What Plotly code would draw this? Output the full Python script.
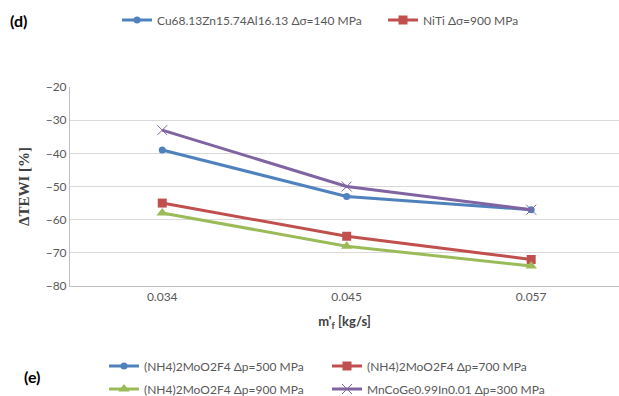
import plotly.graph_objects as go

categories = ["0.034", "0.045", "0.057"]
y_ticks = [-80, -70, -60, -50, -40, -30, -20]

series_names = [
    "(NH4)2MoO2F4 Δp=500 MPa",
    "(NH4)2MoO2F4 Δp=700 MPa",
    "(NH4)2MoO2F4 Δp=900 MPa",
    "MnCoGe0.99In0.01 Δp=300 MPa",
]
blue_vals = [-39, -53, -57]
red_vals = [-55, -65, -72]
green_vals = [-58, -68, -74]
purple_vals = [-33, -50, -57]

top_legend_names = ["Cu68.13Zn15.74Al16.13 Δσ=140 MPa", "NiTi Δσ=900 MPa"]

BLUE, RED, GREEN, PURPLE = "#4f81bd", "#c0504d", "#9bbb59", "#8064a2"
FONT = "Lato, Open Sans, sans-serif"
W, H = 619, 396
ML, MR, MT, MB = 70, 0, 87, 110

fig = go.Figure()
x_idx = list(range(len(categories)))

# top (d) legend entries
fig.add_trace(go.Scatter(x=[None], y=[None], name=top_legend_names[0], mode="lines+markers",
                         line=dict(color=BLUE, width=3), marker=dict(symbol="circle", size=7, color=BLUE),
                         legend="legend"))
fig.add_trace(go.Scatter(x=[None], y=[None], name=top_legend_names[1], mode="lines+markers",
                         line=dict(color=RED, width=3), marker=dict(symbol="square", size=9, color=RED),
                         legend="legend"))

specs = [
    (series_names[0], blue_vals, BLUE, dict(symbol="circle", size=7, color=BLUE), "legend2"),
    (series_names[1], red_vals, RED, dict(symbol="square", size=9, color=RED), "legend2"),
    (series_names[2], green_vals, GREEN, dict(symbol="triangle-up", size=10, color=GREEN), "legend3"),
    (series_names[3], purple_vals, PURPLE, dict(symbol="x-thin-open", size=10, color=PURPLE,
                                                line=dict(color=PURPLE, width=1)), "legend3"),
]
for name, vals, col, mk, lg in specs:
    fig.add_trace(go.Scatter(x=x_idx, y=vals, name=name, mode="lines+markers",
                             line=dict(color=col, width=3), marker=mk, legend=lg))

def cy(py):
    return 1 - py / H

def cx(px):
    return px / W

leg_common = dict(orientation="h", xref="container", yref="container", xanchor="left",
                  yanchor="middle", bgcolor="rgba(0,0,0,0)", itemwidth=30, tracegroupgap=0)

fig.update_layout(
    width=W, height=H,
    margin=dict(l=ML, r=MR, t=MT, b=MB),
    paper_bgcolor="white", plot_bgcolor="white",
    font=dict(family=FONT, size=12, color="#595959"),
    xaxis=dict(range=[-0.5, 2.476], tickvals=x_idx, ticktext=categories, automargin=False,
               showgrid=False, showline=True, linecolor="#bfbfbf", linewidth=1,
               ticks="", zeroline=False, tickfont=dict(size=12, color="#595959"),
               title=dict(text="<b>m'<sub>f</sub> [kg/s]</b>", font=dict(size=13, color="#404040", family=FONT),
                          standoff=13)),
    yaxis=dict(range=[-80, -20], tickvals=y_ticks, showgrid=True, gridcolor="#d9d9d9", automargin=False,
               showline=True, linecolor="#bfbfbf", linewidth=1, zeroline=False, ticks="",
               tickfont=dict(size=12, color="#595959"),
               title=dict(text="<b>ΔTEWI [%]</b>", font=dict(size=15, color="#404040",
                                                         family="Liberation Serif, DejaVu Serif, serif"),
                          standoff=12)),
    legend=dict(**leg_common, x=cx(117), y=cy(20), entrywidth=221,
                font=dict(size=12, color="#595959", family=FONT)),
    legend2=dict(**leg_common, x=cx(104), y=cy(366), entrywidth=178,
                 font=dict(size=12, color="#595959", family=FONT)),
    legend3=dict(**leg_common, x=cx(104), y=cy(389), entrywidth=178,
                 font=dict(size=12, color="#595959", family=FONT)),
    showlegend=True,
)

pw, ph = W - ML - MR, H - MT - MB
def px_to_paper(px, py):
    return (px - ML) / pw, (H - MB - py) / ph

ann = []
for txt, (px, py) in [("<b>(d)</b>", (18, 20)), ("<b>(e)</b>", (32, 376))]:
    xx, yy = px_to_paper(px, py)
    ann.append(dict(text=txt, x=xx, y=yy, xref="paper", yref="paper", showarrow=False,
                    xanchor="center", yanchor="middle",
                    font=dict(size=16, color="#000000", family=FONT)))
fig.update_layout(annotations=ann)

fig.write_html("out.html", config={"displayModeBar": False},
               post_script="document.body.style.margin='0';document.body.style.overflow='hidden';")
